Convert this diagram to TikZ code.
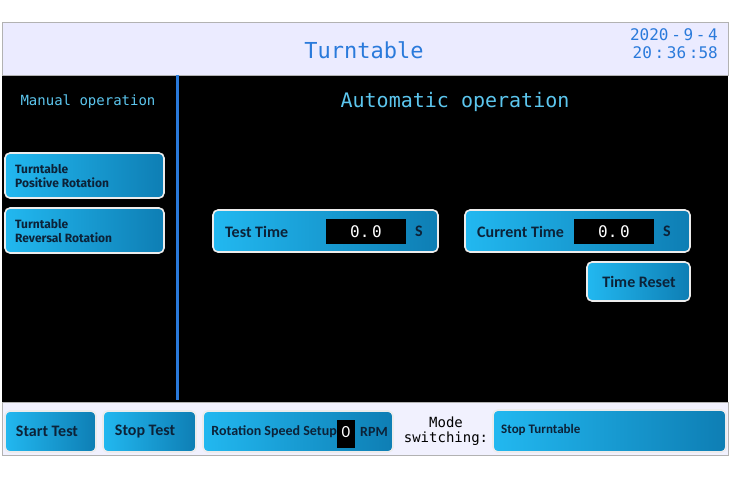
\documentclass[tikz,border=0pt]{standalone}
\usepackage{fontspec}
\setmainfont{Carlito}
\newfontfamily\monof{DejaVu Sans Mono}
\newfontfamily\widef{Fira Sans}
\definecolor{bl}{HTML}{22B8F0}
\definecolor{bm}{HTML}{1AA8E2}
\definecolor{bd}{HTML}{0E7EB4}
\definecolor{navy}{HTML}{0C2238}
\definecolor{ttl}{HTML}{2A7ADB}
\definecolor{cy}{HTML}{5CC6EE}
\newcommand{\fs}[1]{\fontsize{#1}{#1}\selectfont}
\begin{document}
\begin{tikzpicture}[x=1pt,y=-1pt,
  btn/.style={draw=white!85!gray,line width=1.6pt,rounded corners=5pt,left color=bl,middle color=bm,right color=bd},
  btxt/.style={text=navy,inner sep=0pt},
  valbox/.style={fill=black}]
\useasboundingbox (0,0) rectangle (730,480);
\fill[white] (0,0) rectangle (730,480);
\fill[black] (2,75) rectangle (728,402);
\filldraw[fill=blue!8!white,draw=gray!60] (2,22) rectangle (728,75);
\filldraw[fill=gray!15!blue!6!white,draw=gray!60] (2,402) rectangle (728,455);
\fill[ttl] (176,75) rectangle (179,400);
\node[text=ttl,font=\monof\fs{22}] (title) at (364,50) {Turntable};
\node[text=ttl,font=\monof\fs{16},anchor=north east,align=right,inner sep=0pt] (date) at (718,28) {2020\,-\,9\,-\,4\\[2pt]20\,:\,36\,:58};
\node[text=cy,font=\monof\fs{14}] (man) at (88,102) {Manual operation};
\node[text=cy,font=\monof\fs{20}] (auto) at (455,102) {Automatic operation};
% left buttons
\path[btn] (5,153) rectangle (164,198);
\node[btxt,font=\widef\bfseries\fs{12},align=left,anchor=west] (pos) at (15,176) {Turntable\\[2pt]Positive Rotation};
\path[btn] (5,208) rectangle (164,253);
\node[btxt,font=\widef\bfseries\fs{12},align=left,anchor=west] (rev) at (15,231) {Turntable\\[2pt]Reversal Rotation};
% test time
\path[btn] (213,210) rectangle (438,252);
\fill[valbox] (326,219) rectangle (406,244);
\node[btxt,anchor=west,font=\bfseries\fs{16}] (tt) at (225,232) {Test Time};
\node[text=white,font=\monof\fs{16}] (ttv) at (366,232) {0.\,0};
\node[btxt,font=\bfseries\fs{16}] (tts) at (419,231) {S};
\path[btn] (465,210) rectangle (690,252);
\fill[valbox] (574,219) rectangle (654,244);
\node[btxt,anchor=west,font=\bfseries\fs{16}] (ct) at (477,232) {Current Time};
\node[text=white,font=\monof\fs{16}] (ctv) at (614,232) {0.\,0};
\node[btxt,font=\bfseries\fs{16}] (cts) at (667,231) {S};
\path[btn] (587,262) rectangle (690,301);
\node[btxt,font=\bfseries\fs{16}] (tr) at (639,282) {Time Reset};
% bottom
\path[btn] (5,411) rectangle (96,452);
\node[btxt,font=\bfseries\fs{16}] (st) at (47,431) {Start Test};
\path[btn] (103,411) rectangle (196,452);
\node[btxt,font=\bfseries\fs{16}] (sp) at (145,432) {Stop Test};
\path[btn] (203,411) rectangle (393,452);
\fill[black] (337,420) rectangle (355,448);
\node[btxt,font=\bfseries\fs{14},anchor=east] (rs) at (337,432) {Rotation Speed Setup};
\node[text=white,font=\fs{17}] (rsv) at (346,432) {0};
\node[btxt,font=\bfseries\fs{14}] (rpm) at (374,432) {RPM};
\node[font=\monof\fs{14},align=center,inner sep=0pt] (mode) at (446,431) {Mode\\[1pt]switching:};
\path[btn] (493,410) rectangle (726,452);
\node[btxt,font=\bfseries\fs{13},anchor=west] (stt) at (501,430) {Stop Turntable};
\end{tikzpicture}
\end{document}
